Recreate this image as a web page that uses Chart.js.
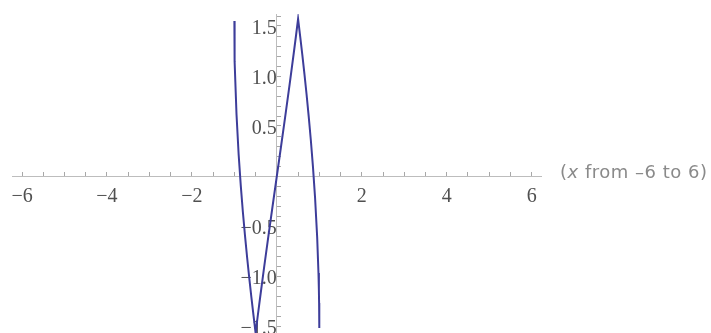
<!DOCTYPE html>
<html>
<head>
<meta charset="utf-8">
<script src="https://cdn.jsdelivr.net/npm/chart.js"></script>
<style>
  html, body { margin: 0; padding: 0; background: #fff; }
  #wrap { width: 711px; height: 333px; position: relative; }
</style>
</head>
<body>
<div id="wrap"><canvas id="plotChart"></canvas></div>
<script>
// points
var xValues = [-1, -0.999, -0.995, -0.99, -0.98, -0.95, -0.9, -0.85, -0.8, -0.75, -0.7, -0.65, -0.6, -0.55,
  -0.5, -0.45, -0.4, -0.3, -0.2, -0.1, 0, 0.1, 0.2, 0.3, 0.4, 0.45, 0.5,
  0.55, 0.6, 0.65, 0.7, 0.75, 0.8, 0.85, 0.9, 0.95, 0.98, 0.99, 0.995, 0.999, 1];
var yValues = [1.55, 1.437, 1.27, 1.146, 0.97, 0.618, 0.218, -0.094, -0.36, -0.597, -0.815, -1.019, -1.211, -1.394,
  -1.571, -1.4, -1.235, -0.914, -0.604, -0.3, 0, 0.3, 0.604, 0.914, 1.235, 1.4, 1.571,
  1.394, 1.211, 1.019, 0.815, 0.597, 0.36, 0.094, -0.218, -0.618, -0.97, -1.146, -1.27, -1.437, -1.52];

// ticks that get a label
var xTickLabels = [-6, -4, -2, 2, 4, 6];
var yTickLabels = [-1.5, -1, -0.5, 0.5, 1, 1.5];

var points = xValues.map(function (x, i) { return { x: x, y: yValues[i] }; });

function inList(list, v) {
  return list.some(function (t) { return Math.abs(t - v) < 1e-6; });
}
function minus(s) { return s.replace('-', '\u2212'); }

// no extra padding from the scales, chart area comes from layout padding only
function noPad(scale) {
  scale.paddingLeft = 0; scale.paddingRight = 0;
  scale.paddingTop = 0; scale.paddingBottom = 0;
}

var tickFont = { family: 'Liberation Serif', size: 20 };

// "(x from -6 to 6)" note to the right of the x axis
var captionPlugin = {
  id: 'caption',
  afterDraw: function (chart) {
    var ctx = chart.ctx;
    var x = chart.chartArea.right + 19;
    var y = chart.scales.y.getPixelForValue(0) - 3;
    ctx.save();
    ctx.fillStyle = '#8a8a8a';
    ctx.textBaseline = 'middle';
    ctx.letterSpacing = '0.5px';
    ctx.font = '18px "DejaVu Sans"';
    ctx.fillText('(', x, y);
    x += ctx.measureText('(').width;
    ctx.font = 'italic 18px "DejaVu Sans"';
    ctx.fillText('x', x, y);
    x += ctx.measureText('x').width;
    ctx.font = '18px "DejaVu Sans"';
    ctx.fillText(' from \u20136 to 6)', x, y);
    ctx.restore();
  }
};

var ctx = document.getElementById('plotChart').getContext('2d');
var plotChart = new Chart(ctx, {
  type: 'line',
  data: {
    datasets: [{
      data: points,
      borderColor: '#3d3d9a',
      borderWidth: 2,
      pointRadius: 0,
      tension: 0,
      fill: false
    }]
  },
  options: {
    responsive: true,
    maintainAspectRatio: false,
    animation: false,
    layout: { padding: { left: 12.7, right: 170, top: 14, bottom: 0 } },
    plugins: { legend: { display: false }, tooltip: { enabled: false } },
    scales: {
      x: {
        type: 'linear',
        min: -6.22,
        max: 6.22,
        position: { y: 0 },
        border: { color: '#bdbdbd', width: 1 },
        grid: { drawOnChartArea: false, drawTicks: true, tickLength: -5, tickColor: '#a8a8a8' },
        ticks: {
          stepSize: 0.5,
          includeBounds: false,
          autoSkip: false,
          maxRotation: 0,
          padding: 14,
          color: '#505050',
          font: tickFont,
          callback: function (v) { return inList(xTickLabels, v) ? minus(String(v)) : ''; }
        },
        afterFit: noPad
      },
      y: {
        type: 'linear',
        min: -1.57,
        max: 1.62,
        position: { x: 0 },
        border: { color: '#bdbdbd', width: 1 },
        grid: { drawOnChartArea: false, drawTicks: true, tickLength: -5, tickColor: '#a8a8a8' },
        ticks: {
          stepSize: 0.1,
          includeBounds: false,
          autoSkip: false,
          padding: 11,
          labelOffset: 3,
          color: '#505050',
          font: tickFont,
          callback: function (v) { return inList(yTickLabels, v) ? minus(v.toFixed(1)) : ''; }
        },
        afterFit: noPad
      }
    }
  },
  plugins: [captionPlugin]
});
</script>
</body>
</html>
